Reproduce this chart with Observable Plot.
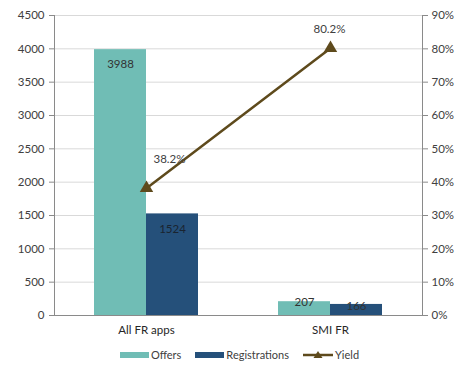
<!DOCTYPE html>
<html>
<head>
<meta charset="utf-8">
<script src="https://cdn.jsdelivr.net/npm/d3@7"></script>
<script src="https://cdn.jsdelivr.net/npm/@observablehq/plot@0.6"></script>
<style>
  body { margin: 0; background: #fff; font-family: Lato, "Open Sans", sans-serif; }
  #chart { width: 457px; }
  .legend { display: flex; justify-content: center; align-items: center; gap: 14px; font-size: 11px; color: #404040; height: 29px; padding-left: 22px; }
  .item { display: flex; align-items: center; gap: 2px; }
  .sw { width: 29px; height: 6px; display: inline-block; }
</style>
</head>
<body>
<div id="chart"></div>
<script>
const categories = ["All FR apps", "SMI FR"];
const offers = [3988, 207];
const registrations = [1524, 166];
const yieldPct = [38.2, 80.2];
const leftTicks = [0, 500, 1000, 1500, 2000, 2500, 3000, 3500, 4000, 4500];
const rightTicks = [0, 10, 20, 30, 40, 50, 60, 70, 80, 90];

const offerColor = "#70bdb5";
const regColor = "#25507a";
const yieldColor = "#5e4a1c";
const scaleFactor = 4500 / 90; // percent -> left axis units

const offerRows = categories.map((c, i) => ({category: c, value: offers[i]}));
const regRows = categories.map((c, i) => ({category: c, value: registrations[i]}));
const yieldRows = categories.map((c, i) => ({category: c, pct: yieldPct[i]}));

const half = 52;

const chart = Plot.plot({
  width: 457,
  height: 340,
  marginTop: 15,
  marginBottom: 25,
  marginLeft: 54,
  marginRight: 35,
  style: {fontFamily: "Lato, 'Open Sans', sans-serif", fontSize: "11px", background: "#fff"},
  x: {domain: categories, paddingInner: 0.435, paddingOuter: 0.2175, label: null},
  y: {domain: [0, 4500], label: null},
  marks: [
    Plot.ruleY(leftTicks.filter(t => t > 0), {stroke: "#d9d9d9"}),
    Plot.barY(offerRows, {x: "category", y: "value", fill: offerColor, insetRight: half}),
    Plot.barY(regRows, {x: "category", y: "value", fill: regColor, insetLeft: half}),
    Plot.frame({anchor: "left", stroke: "#8a8a8a"}),
    Plot.frame({anchor: "right", stroke: "#8a8a8a"}),
    Plot.frame({anchor: "bottom", stroke: "#8a8a8a"}),
    Plot.axisY(leftTicks, {anchor: "left", tickSize: 5, tickPadding: 5, stroke: "#8a8a8a", color: "#404040", fontSize: 11.5, label: null,
      tickFormat: d => String(d)}),
    Plot.axisY(rightTicks.map(p => p * scaleFactor), {anchor: "right", tickSize: 5, tickPadding: 4, stroke: "#8a8a8a", color: "#404040", fontSize: 11.5, label: null,
      tickFormat: d => Math.round(d / scaleFactor) + "%"}),
    Plot.axisX({tickSize: 0, tickPadding: 10, color: "#262626", fontSize: 11.5, label: null}),
    // bar value labels
    Plot.text(offerRows.filter(d => d.value > 1000), {x: "category", y: "value", text: d => String(d.value), dx: -half / 2, dy: 15, fill: "#333", fontSize: 11.5}),
    Plot.text(regRows.filter(d => d.value > 1000), {x: "category", y: "value", text: d => String(d.value), dx: half / 2, dy: 15, fill: "#1a2430", fontSize: 11.5}),
    Plot.text(offerRows.filter(d => d.value <= 1000), {x: "category", y: "value", text: d => String(d.value), dx: -half / 2, dy: 1, fill: "#333", fontSize: 11.5}),
    Plot.text(regRows.filter(d => d.value <= 1000), {x: "category", y: "value", text: d => String(d.value), dx: half / 2, dy: 2, fill: "#333", fontSize: 11.5}),
    // yield line
    Plot.line(yieldRows, {x: "category", y: d => d.pct * scaleFactor, stroke: yieldColor, strokeWidth: 2.5}),
    Plot.dot(yieldRows, {x: "category", y: d => d.pct * scaleFactor, symbol: "triangle", r: 5, fill: yieldColor}),
    Plot.text(yieldRows.slice(0, 1), {x: "category", y: d => d.pct * scaleFactor, text: d => d.pct.toFixed(1) + "%", textAnchor: "start", dx: 7, dy: -29, fill: "#404040", fontSize: 11.5}),
    Plot.text(yieldRows.slice(1), {x: "category", y: d => d.pct * scaleFactor, text: d => d.pct.toFixed(1) + "%", textAnchor: "start", dx: -17, dy: -19, fill: "#404040", fontSize: 11.5})
  ]
});
document.getElementById("chart").appendChild(chart);

const legend = document.createElement("div");
legend.className = "legend";
legend.innerHTML = `
  <span class="item"><span class="sw" style="background:${offerColor}"></span>Offers</span>
  <span class="item"><span class="sw" style="background:${regColor}"></span>Registrations</span>
  <span class="item"><svg width="30" height="10"><line x1="0" y1="5" x2="30" y2="5" stroke="${yieldColor}" stroke-width="2.5"/><path d="M15,1 L19.5,8 L10.5,8 Z" fill="${yieldColor}"/></svg>Yield</span>`;
document.getElementById("chart").appendChild(legend);
</script>
</body>
</html>
